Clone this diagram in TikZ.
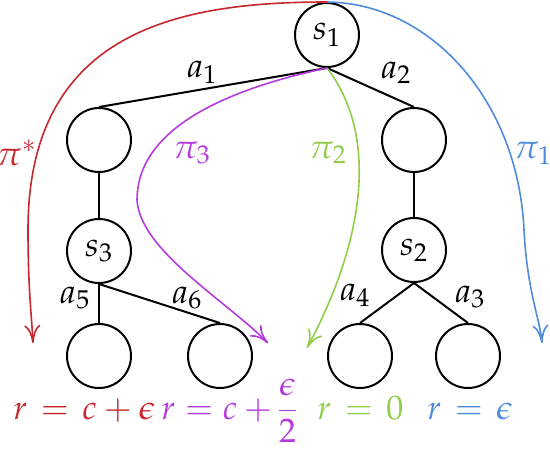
\documentclass[tikz,border=0pt]{standalone}
\usepackage{mathpazo}
\usetikzlibrary{arrows.meta}
\definecolor{cred}{RGB}{200,40,45}
\definecolor{cpur}{RGB}{180,60,220}
\definecolor{cgrn}{RGB}{145,205,75}
\definecolor{cblu}{RGB}{80,140,220}
\newcommand{\eqsp}{\mkern2mu=\mkern2mu}
\begin{document}
\begin{tikzpicture}[x=0.5pt,y=-0.5pt,
  every node/.style={font=\fontsize{17}{20}\selectfont},
  st/.style={circle,draw,line width=1pt,minimum size=32pt,inner sep=0pt},
  edge/.style={line width=1pt},
  pol/.style={line width=0.8pt,-{Computer Modern Rightarrow[length=9pt,width=8pt]}},
  lbl/.style={anchor=base,inner sep=0pt},
  rew/.style={anchor=base west,inner sep=0pt}]
\path[use as bounding box] (0,0) rectangle (550,450);
% nodes
\node[st] (n1) at (327,35) {$s_1$};
\node[st] (nL) at (99,140) {};
\node[st] (s3) at (99,251) {$s_3$};
\node[st] (l1) at (99,356) {};
\node[st] (l2) at (220,356) {};
\node[st] (nR) at (414,140) {};
\node[st] (s2) at (414,250) {$s_2$};
\node[st] (l3) at (360,356) {};
\node[st] (l4) at (468,356) {};
% edges
\draw[edge] (n1.south) -- (nL.north);
\draw[edge] (n1.south) -- (nR.north);
\draw[edge] (nL.south) -- (s3.north);
\draw[edge] (nR.south) -- (s2.north);
\draw[edge] (s3.south) -- (l1.north);
\draw[edge] (s3.south) -- (l2.north);
\draw[edge] (s2.south) -- (l3.north);
\draw[edge] (s2.south) -- (l4.north);
% action labels
\node[lbl] (a1) at (202,77) {$a_1$};
\node[lbl] (a2) at (396,78) {$a_2$};
\node[lbl] (a5) at (75,303) {$a_5$};
\node[lbl] (a6) at (187,303) {$a_6$};
\node[lbl] (a4) at (355,300) {$a_4$};
\node[lbl] (a3) at (470,302) {$a_3$};
% policy curves
\coordinate (eR) at (33,343);
\coordinate (eP) at (268,343);
\coordinate (eG) at (307,348);
\coordinate (eB) at (542,343);
\draw[pol,cred] (n1.north) .. controls (180,2) and (28,30) .. (28,230)
   .. controls (28,290) and (32,320) .. (eR);
\draw[pol,cblu] (n1.north) .. controls (430,3) and (518,100) .. (524,230)
   .. controls (527,290) and (540,320) .. (eB);
\draw[pol,cgrn] (n1.south) .. controls (375,130) and (370,230) .. (eG);
\draw[pol,cpur] (n1.south) .. controls (200,95) and (137,140) .. (137,200)
   .. controls (140,250) and (225,300) .. (eP);
% policy labels
\node[lbl,text=cred] (ps) at (17,165) {$\pi^*$};
\node[lbl,text=cpur] (p3) at (192,158) {$\pi_3$};
\node[lbl,text=cgrn] (p2) at (328,158) {$\pi_2$};
\node[lbl,text=cblu] (p1) at (533,158) {$\pi_1$};
% rewards
\node[rew,text=cred] (r1) at (13,419) {$r\eqsp c+\epsilon$};
\node[rew,text=cpur] (r2) at (161,419) {$\nulldelimiterspace=0pt r=c+\displaystyle\frac{\epsilon}{2}$};
\node[rew,text=cgrn] (r3) at (317,419) {$r\eqsp 0$};
\node[rew,text=cblu] (r4) at (427,419) {$r\eqsp\epsilon$};
\end{tikzpicture}
\end{document}
